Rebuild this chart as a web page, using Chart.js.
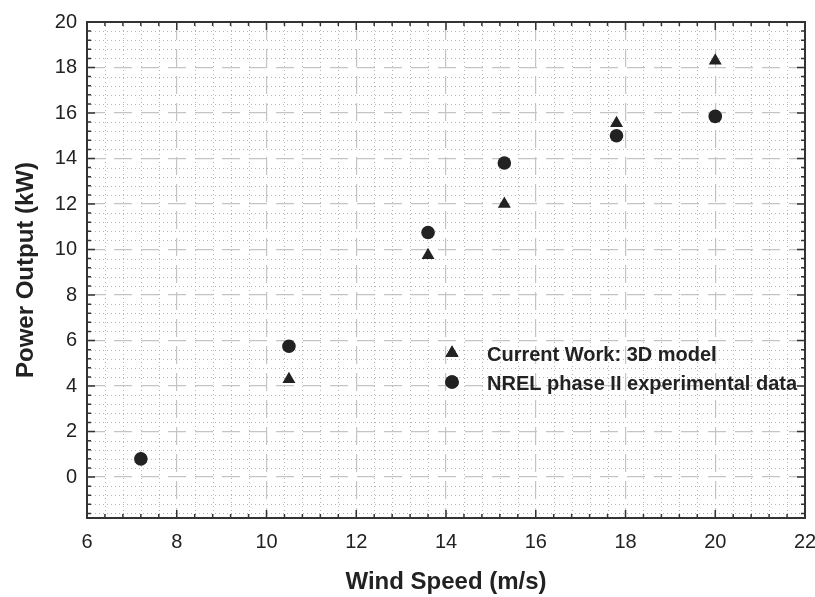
<!DOCTYPE html>
<html>
<head>
<meta charset="utf-8">
<script src="https://cdn.jsdelivr.net/npm/chart.js@4.4.0/dist/chart.umd.min.js"></script>
<style>
  body { margin: 0; background: #fff; }
  #wrap { width: 815px; height: 597px; }
</style>
</head>
<body>
<div id="wrap"><canvas id="powerChart"></canvas></div>
<script>
// wind speed (m/s)
var windSpeed = [7.2, 10.5, 13.6, 15.3, 17.8, 20];
// power output (kW)
var currentWork = [0.8, 4.3, 9.75, 12.0, 15.55, 18.3];
var nrelData = [0.8, 5.75, 10.75, 13.8, 15.0, 15.85];
var xTicks = [6, 8, 10, 12, 14, 16, 18, 20, 22];
var yTicks = [0, 2, 4, 6, 8, 10, 12, 14, 16, 18, 20];

var ink = '#222222';
var fontFam = '"Liberation Sans", Arial, sans-serif';

function toPoints(xs, ys) {
    return xs.map(function (x, i) { return { x: x, y: ys[i] }; });
}

// dotted minor grid, frame with inward ticks, and legend inside the plot
var framePlugin = {
    id: 'frame',
    beforeDatasetsDraw: function (chart) {
        var ctx = chart.ctx, a = chart.chartArea;
        var sx = chart.scales.x, sy = chart.scales.y;
        ctx.save();
        ctx.strokeStyle = '#b5b5b5';
        ctx.lineWidth = 1;
        ctx.setLineDash([1, 3]);
        var v, p;
        for (v = 6.4; v < 22; v += 0.4) {
            if (Math.abs(v / 2 - Math.round(v / 2)) < 0.01) continue;
            p = Math.round(sx.getPixelForValue(v)) + 0.5;
            ctx.beginPath(); ctx.moveTo(p, a.top); ctx.lineTo(p, a.bottom); ctx.stroke();
        }
        for (v = -1.6; v < 20; v += 0.4) {
            if (Math.abs(v / 2 - Math.round(v / 2)) < 0.01) continue;
            p = Math.round(sy.getPixelForValue(v)) + 0.5;
            ctx.beginPath(); ctx.moveTo(a.left, p); ctx.lineTo(a.right, p); ctx.stroke();
        }
        ctx.restore();
    },
    afterDatasetsDraw: function (chart) {
        var ctx = chart.ctx, a = chart.chartArea;
        var sx = chart.scales.x, sy = chart.scales.y;
        ctx.save();
        ctx.strokeStyle = '#333';
        ctx.lineWidth = 1.5;
        var v, p, len, major;
        for (v = 6; v <= 22.001; v += 0.4) {
            major = Math.abs(v / 2 - Math.round(v / 2)) < 0.01;
            len = major ? 8 : 4;
            p = sx.getPixelForValue(v);
            ctx.beginPath();
            ctx.moveTo(p, a.bottom); ctx.lineTo(p, a.bottom - len);
            ctx.moveTo(p, a.top); ctx.lineTo(p, a.top + len);
            ctx.stroke();
        }
        for (v = -1.6; v <= 20.001; v += 0.4) {
            major = Math.abs(v / 2 - Math.round(v / 2)) < 0.01;
            len = major ? 8 : 4;
            p = sy.getPixelForValue(v);
            ctx.beginPath();
            ctx.moveTo(a.left, p); ctx.lineTo(a.left + len, p);
            ctx.moveTo(a.right, p); ctx.lineTo(a.right - len, p);
            ctx.stroke();
        }
        ctx.lineWidth = 2;
        ctx.strokeRect(a.left, a.top, a.right - a.left, a.bottom - a.top);

        // legend
        var lx = 452, ly = 353;
        chart.data.datasets.forEach(function (ds, i) {
            Chart.helpers.drawPoint(ctx, {
                pointStyle: ds.pointStyle, radius: ds.pointRadius, borderWidth: 0
            }, lx, ly + i * 29);
            ctx.fillStyle = ink;
            ctx.fill();
            ctx.font = 'bold 20px ' + fontFam;
            ctx.textBaseline = 'middle';
            ctx.textAlign = 'left';
            ctx.fillText(ds.label, 487, ly + 2 + i * 29);
        });
        ctx.restore();
    }
};

var ctx = document.getElementById('powerChart').getContext('2d');
var powerChart = new Chart(ctx, {
    type: 'scatter',
    data: {
        datasets: [
            {
                label: 'Current Work: 3D model',
                data: toPoints(windSpeed, currentWork),
                pointStyle: 'triangle',
                pointRadius: 7.5,
                backgroundColor: ink,
                borderColor: ink,
                borderWidth: 0
            },
            {
                label: 'NREL phase II experimental data',
                data: toPoints(windSpeed, nrelData),
                pointStyle: 'circle',
                pointRadius: 6.8,
                backgroundColor: ink,
                borderColor: ink,
                borderWidth: 0
            }
        ]
    },
    options: {
        responsive: true,
        maintainAspectRatio: false,
        animation: false,
        layout: { padding: { top: 16, right: 0, left: 0, bottom: 0 } },
        plugins: {
            legend: { display: false },
            tooltip: { enabled: false }
        },
        scales: {
            x: {
                type: 'linear',
                min: 6,
                max: 22,
                afterBuildTicks: function (scale) {
                    scale.ticks = xTicks.map(function (v) { return { value: v }; });
                },
                afterFit: function (scale) {
                    scale.height = 79;
                    scale.paddingLeft = 0;
                    scale.paddingRight = 10;
                },
                ticks: {
                    color: ink,
                    padding: 12,
                    font: { family: fontFam, size: 20 }
                },
                grid: { color: '#c4c4c4', lineWidth: 1.2, drawTicks: false },
                border: { display: false, dash: [18, 9] },
                title: {
                    display: true,
                    text: 'Wind Speed (m/s)',
                    color: ink,
                    padding: { top: 0, bottom: 0 },
                    font: { family: fontFam, size: 24, weight: 'bold' }
                }
            },
            y: {
                type: 'linear',
                min: -1.8,
                max: 20,
                afterBuildTicks: function (scale) {
                    scale.ticks = yTicks.map(function (v) { return { value: v }; });
                },
                afterFit: function (scale) { scale.width = 87; },
                ticks: {
                    color: ink,
                    padding: 10,
                    font: { family: fontFam, size: 20 }
                },
                grid: { color: '#c4c4c4', lineWidth: 1.2, drawTicks: false },
                border: { display: false, dash: [18, 9] },
                title: {
                    display: true,
                    text: 'Power Output (kW)',
                    color: ink,
                    padding: { top: 12, bottom: 0 },
                    font: { family: fontFam, size: 24, weight: 'bold' }
                }
            }
        }
    },
    plugins: [framePlugin]
});
</script>
</body>
</html>
